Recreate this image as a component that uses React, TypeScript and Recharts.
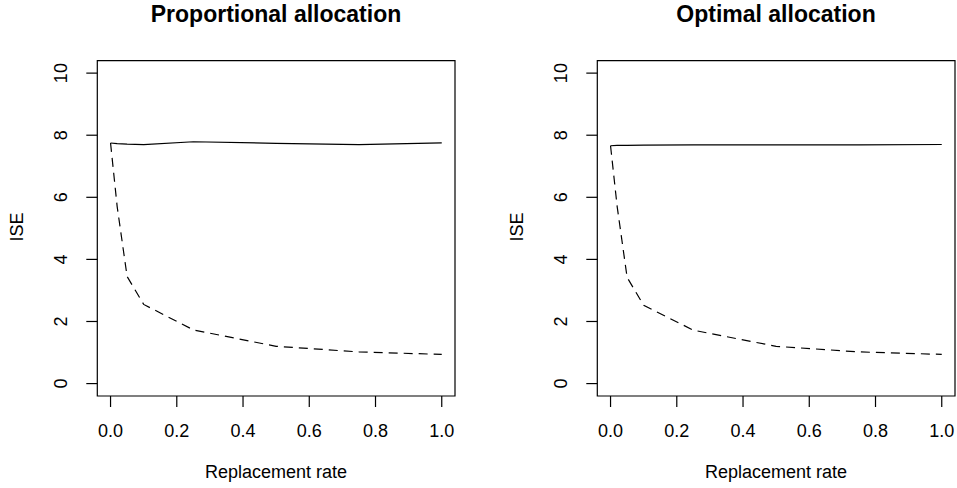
import { LineChart, Line, XAxis, YAxis, ReferenceArea } from "recharts";

const replacementRate = [0, 0.02, 0.05, 0.1, 0.25, 0.5, 0.75, 1];
const propSolid = [7.75, 7.73, 7.71, 7.7, 7.79, 7.74, 7.7, 7.75];
const propDashed = [7.75, 5.7, 3.45, 2.55, 1.73, 1.2, 1.02, 0.94];
const optSolid = [7.66, 7.67, 7.67, 7.68, 7.69, 7.69, 7.69, 7.7];
const optDashed = [7.66, 5.7, 3.42, 2.52, 1.72, 1.2, 1.02, 0.94];

const xTicks = [0, 0.2, 0.4, 0.6, 0.8, 1];
const yTicks = [0, 2, 4, 6, 8, 10];
const titles = ["Proportional allocation", "Optimal allocation"];
const xTitle = "Replacement rate";
const yTitle = "ISE";

const font = "'Liberation Sans', Arial, sans-serif";

const XTick = (props: any) => {
  const { x, payload } = props;
  return (
    <text x={x} y={437} textAnchor="middle" fontSize={18} fontFamily={font} fill="#000">
      {Number(payload.value).toFixed(1)}
    </text>
  );
};

const YTick = (props: any) => {
  const { y, payload } = props;
  return (
    <text
      x={67}
      y={y}
      transform={`rotate(-90, 67, ${y})`}
      textAnchor="middle"
      fontSize={18}
      fontFamily={font}
      fill="#000"
    >
      {payload.value}
    </text>
  );
};

function Panel({ solid, dashed, title, left, width }: any) {
  const data = replacementRate.map((r, i) => ({ r, solid: solid[i], dashed: dashed[i] }));
  return (
    <div style={{ position: "absolute", left, top: 0, width, height: 488 }}>
      <LineChart
        width={width}
        height={488}
        data={data}
        margin={{ top: 60.7, bottom: 52, left: 57.3, right: width - 455 }}
      >
        <XAxis
          dataKey="r"
          type="number"
          domain={[-0.04, 1.04]}
          allowDataOverflow
          ticks={xTicks}
          interval={0}
          height={40}
          axisLine={false}
          tickSize={11}
          tickLine={{ stroke: "#000", strokeWidth: 1.2 }}
          tick={<XTick />}
        />
        <YAxis
          type="number"
          domain={[-0.4, 10.4]}
          allowDataOverflow
          ticks={yTicks}
          interval={0}
          width={40}
          axisLine={false}
          tickSize={11}
          tickLine={{ stroke: "#000", strokeWidth: 1.2 }}
          tick={<YTick />}
        />
        <ReferenceArea
          x1={-0.04}
          x2={1.04}
          y1={-0.4}
          y2={10.4}
          fill="none"
          fillOpacity={0}
          stroke="#000"
          strokeWidth={1.2}
          ifOverflow="visible"
        />
        <Line
          dataKey="solid"
          stroke="#000"
          strokeWidth={1.2}
          dot={false}
          isAnimationActive={false}
        />
        <Line
          dataKey="dashed"
          stroke="#000"
          strokeWidth={1.2}
          strokeDasharray="9 6"
          dot={false}
          isAnimationActive={false}
        />
      </LineChart>
      <svg
        width={width}
        height={488}
        style={{ position: "absolute", left: 0, top: 0, pointerEvents: "none" }}
      >
        <text x={276} y={22} textAnchor="middle" fontSize={23} fontWeight="bold" fontFamily={font}>
          {title}
        </text>
        <text x={276} y={478} textAnchor="middle" fontSize={18} fontFamily={font}>
          {xTitle}
        </text>
        <text
          x={23}
          y={227}
          transform="rotate(-90, 23, 227)"
          textAnchor="middle"
          fontSize={18}
          fontFamily={font}
        >
          {yTitle}
        </text>
      </svg>
    </div>
  );
}

export default function App() {
  return (
    <div style={{ position: "absolute", left: 0, top: 0, width: 957, height: 488, background: "#fff" }}>
      <Panel solid={propSolid} dashed={propDashed} title={titles[0]} left={0} width={478} />
      <Panel solid={optSolid} dashed={optDashed} title={titles[1]} left={500} width={457} />
    </div>
  );
}
